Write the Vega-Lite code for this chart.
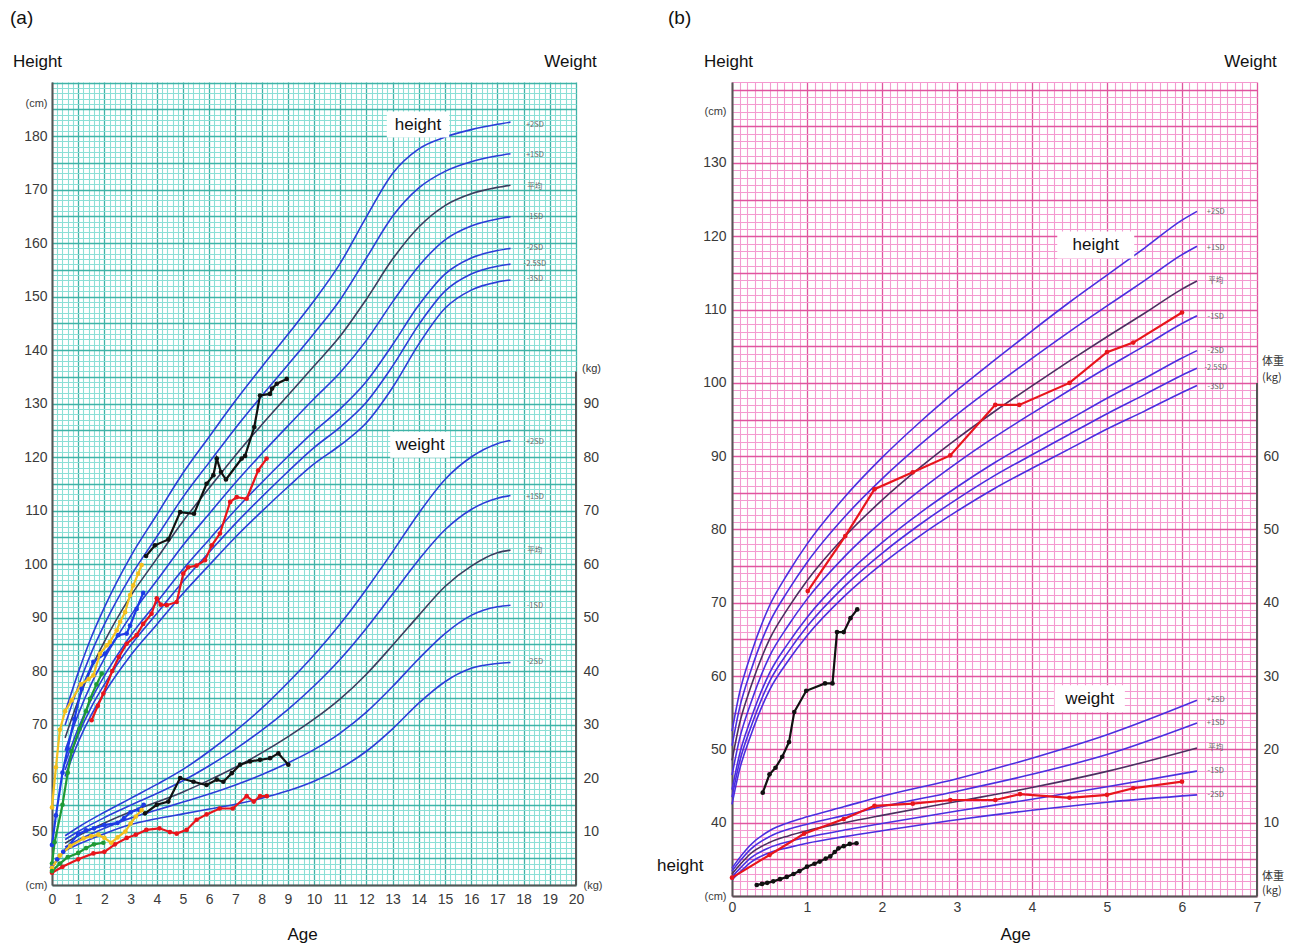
{
"$schema": "https://vega.github.io/schema/vega-lite/v6.json",
"background": "white",
"padding": {"left": 10, "top": 9, "right": 5, "bottom": 5},
"spacing": 156,
"bounds": "flush",
"config": {
  "view": {"stroke": null, "fill": "white"},
  "font": "Liberation Sans",
  "axis": {"labelFont": "Liberation Sans", "labelFontSize": 14, "labelColor": "#3a3a3a", "titleFont": "Liberation Sans", "titleFontWeight": "normal", "titleFontSize": 17, "titleColor": "#111", "ticks": false, "labelOverlap": false, "labelFlush": false, "domainColor": "#555", "domainWidth": 2, "tickCount": 1000, "format": "d"}
},
"datasets": {
"a_h_ref": [
{"age":0.5,"c":"+2SD","cm":72.3},{"age":1,"c":"+2SD","cm":79.7},{"age":1.5,"c":"+2SD","cm":86.3},{"age":2,"c":"+2SD","cm":91.9},{"age":3,"c":"+2SD","cm":101.4},{"age":4,"c":"+2SD","cm":109.2},{"age":5,"c":"+2SD","cm":117.0},{"age":6,"c":"+2SD","cm":123.8},{"age":7,"c":"+2SD","cm":130.5},{"age":8,"c":"+2SD","cm":136.8},{"age":9,"c":"+2SD","cm":142.9},{"age":10,"c":"+2SD","cm":149.2},{"age":11,"c":"+2SD","cm":156.2},{"age":12,"c":"+2SD","cm":164.9},{"age":13,"c":"+2SD","cm":173.0},{"age":14,"c":"+2SD","cm":177.6},{"age":15,"c":"+2SD","cm":179.8},{"age":16,"c":"+2SD","cm":181.2},{"age":17,"c":"+2SD","cm":182.2},{"age":17.5,"c":"+2SD","cm":182.6},
{"age":0.5,"c":"+1SD","cm":69.9},{"age":1,"c":"+1SD","cm":77.1},{"age":1.5,"c":"+1SD","cm":83.4},{"age":2,"c":"+1SD","cm":88.7},{"age":3,"c":"+1SD","cm":97.7},{"age":4,"c":"+1SD","cm":105.1},{"age":5,"c":"+1SD","cm":112.5},{"age":6,"c":"+1SD","cm":119.0},{"age":7,"c":"+1SD","cm":125.4},{"age":8,"c":"+1SD","cm":131.4},{"age":9,"c":"+1SD","cm":137.2},{"age":10,"c":"+1SD","cm":143.1},{"age":11,"c":"+1SD","cm":149.4},{"age":12,"c":"+1SD","cm":157.2},{"age":13,"c":"+1SD","cm":165.0},{"age":14,"c":"+1SD","cm":170.3},{"age":15,"c":"+1SD","cm":173.4},{"age":16,"c":"+1SD","cm":175.2},{"age":17,"c":"+1SD","cm":176.3},{"age":17.5,"c":"+1SD","cm":176.7},
{"age":0.5,"c":"平均","cm":67.5},{"age":1,"c":"平均","cm":74.5},{"age":1.5,"c":"平均","cm":80.5},{"age":2,"c":"平均","cm":85.5},{"age":3,"c":"平均","cm":94.0},{"age":4,"c":"平均","cm":101.0},{"age":5,"c":"平均","cm":108.0},{"age":6,"c":"平均","cm":114.2},{"age":7,"c":"平均","cm":120.3},{"age":8,"c":"平均","cm":126.0},{"age":9,"c":"平均","cm":131.5},{"age":10,"c":"平均","cm":137.0},{"age":11,"c":"平均","cm":142.6},{"age":12,"c":"平均","cm":149.5},{"age":13,"c":"平均","cm":157.0},{"age":14,"c":"平均","cm":163.0},{"age":15,"c":"平均","cm":167.0},{"age":16,"c":"平均","cm":169.2},{"age":17,"c":"平均","cm":170.4},{"age":17.5,"c":"平均","cm":170.8},
{"age":0.5,"c":"-1SD","cm":65.1},{"age":1,"c":"-1SD","cm":71.9},{"age":1.5,"c":"-1SD","cm":77.6},{"age":2,"c":"-1SD","cm":82.3},{"age":3,"c":"-1SD","cm":90.3},{"age":4,"c":"-1SD","cm":96.9},{"age":5,"c":"-1SD","cm":103.5},{"age":6,"c":"-1SD","cm":109.4},{"age":7,"c":"-1SD","cm":115.2},{"age":8,"c":"-1SD","cm":120.6},{"age":9,"c":"-1SD","cm":125.8},{"age":10,"c":"-1SD","cm":130.9},{"age":11,"c":"-1SD","cm":135.8},{"age":12,"c":"-1SD","cm":141.8},{"age":13,"c":"-1SD","cm":149.0},{"age":14,"c":"-1SD","cm":155.7},{"age":15,"c":"-1SD","cm":160.6},{"age":16,"c":"-1SD","cm":163.2},{"age":17,"c":"-1SD","cm":164.5},{"age":17.5,"c":"-1SD","cm":164.9},
{"age":0.5,"c":"-2SD","cm":62.7},{"age":1,"c":"-2SD","cm":69.3},{"age":1.5,"c":"-2SD","cm":74.7},{"age":2,"c":"-2SD","cm":79.1},{"age":3,"c":"-2SD","cm":86.6},{"age":4,"c":"-2SD","cm":92.8},{"age":5,"c":"-2SD","cm":99.0},{"age":6,"c":"-2SD","cm":104.6},{"age":7,"c":"-2SD","cm":110.1},{"age":8,"c":"-2SD","cm":115.2},{"age":9,"c":"-2SD","cm":120.1},{"age":10,"c":"-2SD","cm":124.8},{"age":11,"c":"-2SD","cm":129.0},{"age":12,"c":"-2SD","cm":134.1},{"age":13,"c":"-2SD","cm":141.0},{"age":14,"c":"-2SD","cm":148.4},{"age":15,"c":"-2SD","cm":154.2},{"age":16,"c":"-2SD","cm":157.2},{"age":17,"c":"-2SD","cm":158.6},{"age":17.5,"c":"-2SD","cm":159.0},
{"age":0.5,"c":"-2.5SD","cm":61.5},{"age":1,"c":"-2.5SD","cm":68.0},{"age":1.5,"c":"-2.5SD","cm":73.25},{"age":2,"c":"-2.5SD","cm":77.5},{"age":3,"c":"-2.5SD","cm":84.75},{"age":4,"c":"-2.5SD","cm":90.75},{"age":5,"c":"-2.5SD","cm":96.75},{"age":6,"c":"-2.5SD","cm":102.2},{"age":7,"c":"-2.5SD","cm":107.55},{"age":8,"c":"-2.5SD","cm":112.5},{"age":9,"c":"-2.5SD","cm":117.25},{"age":10,"c":"-2.5SD","cm":121.75},{"age":11,"c":"-2.5SD","cm":125.6},{"age":12,"c":"-2.5SD","cm":130.25},{"age":13,"c":"-2.5SD","cm":137.0},{"age":14,"c":"-2.5SD","cm":144.75},{"age":15,"c":"-2.5SD","cm":151.0},{"age":16,"c":"-2.5SD","cm":154.2},{"age":17,"c":"-2.5SD","cm":155.65},{"age":17.5,"c":"-2.5SD","cm":156.05},
{"age":0.5,"c":"-3SD","cm":60.3},{"age":1,"c":"-3SD","cm":66.7},{"age":1.5,"c":"-3SD","cm":71.8},{"age":2,"c":"-3SD","cm":75.9},{"age":3,"c":"-3SD","cm":82.9},{"age":4,"c":"-3SD","cm":88.7},{"age":5,"c":"-3SD","cm":94.5},{"age":6,"c":"-3SD","cm":99.8},{"age":7,"c":"-3SD","cm":105.0},{"age":8,"c":"-3SD","cm":109.8},{"age":9,"c":"-3SD","cm":114.4},{"age":10,"c":"-3SD","cm":118.7},{"age":11,"c":"-3SD","cm":122.2},{"age":12,"c":"-3SD","cm":126.4},{"age":13,"c":"-3SD","cm":133.0},{"age":14,"c":"-3SD","cm":141.1},{"age":15,"c":"-3SD","cm":147.8},{"age":16,"c":"-3SD","cm":151.2},{"age":17,"c":"-3SD","cm":152.7},{"age":17.5,"c":"-3SD","cm":153.1}
],
"a_w_ref": [
{"age":0.5,"c":"+2SD","kg":9.2},{"age":1,"c":"+2SD","kg":10.8},{"age":2,"c":"+2SD","kg":13.6},{"age":3,"c":"+2SD","kg":16.2},{"age":4,"c":"+2SD","kg":18.8},{"age":5,"c":"+2SD","kg":21.6},{"age":6,"c":"+2SD","kg":25.0},{"age":7,"c":"+2SD","kg":28.8},{"age":8,"c":"+2SD","kg":33.0},{"age":9,"c":"+2SD","kg":37.8},{"age":10,"c":"+2SD","kg":43.0},{"age":11,"c":"+2SD","kg":48.8},{"age":12,"c":"+2SD","kg":55.3},{"age":13,"c":"+2SD","kg":62.3},{"age":14,"c":"+2SD","kg":69.5},{"age":15,"c":"+2SD","kg":75.8},{"age":16,"c":"+2SD","kg":80.0},{"age":17,"c":"+2SD","kg":82.5},{"age":17.5,"c":"+2SD","kg":83.1},
{"age":0.5,"c":"+1SD","kg":8.5},{"age":1,"c":"+1SD","kg":10.0},{"age":2,"c":"+1SD","kg":12.6},{"age":3,"c":"+1SD","kg":14.9},{"age":4,"c":"+1SD","kg":17.1},{"age":5,"c":"+1SD","kg":19.5},{"age":6,"c":"+1SD","kg":22.3},{"age":7,"c":"+1SD","kg":25.4},{"age":8,"c":"+1SD","kg":28.9},{"age":9,"c":"+1SD","kg":32.8},{"age":10,"c":"+1SD","kg":37.2},{"age":11,"c":"+1SD","kg":42.2},{"age":12,"c":"+1SD","kg":48.0},{"age":13,"c":"+1SD","kg":54.4},{"age":14,"c":"+1SD","kg":60.8},{"age":15,"c":"+1SD","kg":66.4},{"age":16,"c":"+1SD","kg":70.2},{"age":17,"c":"+1SD","kg":72.3},{"age":17.5,"c":"+1SD","kg":72.8},
{"age":0.5,"c":"平均","kg":7.8},{"age":1,"c":"平均","kg":9.2},{"age":2,"c":"平均","kg":11.6},{"age":3,"c":"平均","kg":13.7},{"age":4,"c":"平均","kg":15.5},{"age":5,"c":"平均","kg":17.4},{"age":6,"c":"平均","kg":19.6},{"age":7,"c":"平均","kg":22.0},{"age":8,"c":"平均","kg":24.7},{"age":9,"c":"平均","kg":27.7},{"age":10,"c":"平均","kg":31.0},{"age":11,"c":"平均","kg":34.8},{"age":12,"c":"平均","kg":39.4},{"age":13,"c":"平均","kg":44.8},{"age":14,"c":"平均","kg":50.4},{"age":15,"c":"平均","kg":55.8},{"age":16,"c":"平均","kg":59.6},{"age":17,"c":"平均","kg":62.1},{"age":17.5,"c":"平均","kg":62.6},
{"age":0.5,"c":"-1SD","kg":7.1},{"age":1,"c":"-1SD","kg":8.4},{"age":2,"c":"-1SD","kg":10.6},{"age":3,"c":"-1SD","kg":12.5},{"age":4,"c":"-1SD","kg":14.0},{"age":5,"c":"-1SD","kg":15.5},{"age":6,"c":"-1SD","kg":17.0},{"age":7,"c":"-1SD","kg":18.7},{"age":8,"c":"-1SD","kg":20.6},{"age":9,"c":"-1SD","kg":22.8},{"age":10,"c":"-1SD","kg":25.3},{"age":11,"c":"-1SD","kg":28.4},{"age":12,"c":"-1SD","kg":32.3},{"age":13,"c":"-1SD","kg":37.1},{"age":14,"c":"-1SD","kg":42.3},{"age":15,"c":"-1SD","kg":47.0},{"age":16,"c":"-1SD","kg":50.4},{"age":17,"c":"-1SD","kg":52.0},{"age":17.5,"c":"-1SD","kg":52.3},
{"age":0.5,"c":"-2SD","kg":6.4},{"age":1,"c":"-2SD","kg":7.6},{"age":2,"c":"-2SD","kg":9.6},{"age":3,"c":"-2SD","kg":11.3},{"age":4,"c":"-2SD","kg":12.4},{"age":5,"c":"-2SD","kg":13.3},{"age":6,"c":"-2SD","kg":14.2},{"age":7,"c":"-2SD","kg":15.1},{"age":8,"c":"-2SD","kg":16.2},{"age":9,"c":"-2SD","kg":17.6},{"age":10,"c":"-2SD","kg":19.4},{"age":11,"c":"-2SD","kg":21.8},{"age":12,"c":"-2SD","kg":25.0},{"age":13,"c":"-2SD","kg":29.2},{"age":14,"c":"-2SD","kg":34.0},{"age":15,"c":"-2SD","kg":38.0},{"age":16,"c":"-2SD","kg":40.5},{"age":17,"c":"-2SD","kg":41.4},{"age":17.5,"c":"-2SD","kg":41.6}
],
"a_h_pat": [
{"p":"black","age":3.59,"cm":101.5},{"p":"black","age":3.93,"cm":103.5},{"p":"black","age":4.44,"cm":104.6},{"p":"black","age":4.89,"cm":109.7},{"p":"black","age":5.42,"cm":109.4},{"p":"black","age":5.9,"cm":115.0},{"p":"black","age":6.16,"cm":116.6},{"p":"black","age":6.29,"cm":119.7},{"p":"black","age":6.45,"cm":117.2},{"p":"black","age":6.64,"cm":115.8},{"p":"black","age":7.24,"cm":119.7},{"p":"black","age":7.37,"cm":120.2},{"p":"black","age":7.72,"cm":125.6},{"p":"black","age":7.94,"cm":131.5},{"p":"black","age":8.32,"cm":131.8},{"p":"black","age":8.4,"cm":132.8},{"p":"black","age":8.58,"cm":133.7},{"p":"black","age":8.96,"cm":134.6},
{"p":"red","age":1.51,"cm":70.8},{"p":"red","age":1.75,"cm":73.5},{"p":"red","age":1.96,"cm":75.8},{"p":"red","age":2.3,"cm":80.0},{"p":"red","age":2.55,"cm":82.6},{"p":"red","age":2.85,"cm":85.1},{"p":"red","age":3.23,"cm":86.7},{"p":"red","age":3.48,"cm":88.8},{"p":"red","age":3.8,"cm":90.7},{"p":"red","age":4.0,"cm":93.6},{"p":"red","age":4.15,"cm":92.4},{"p":"red","age":4.38,"cm":92.3},{"p":"red","age":4.76,"cm":92.9},{"p":"red","age":5.01,"cm":98.2},{"p":"red","age":5.2,"cm":99.4},{"p":"red","age":5.52,"cm":99.7},{"p":"red","age":5.84,"cm":100.7},{"p":"red","age":6.1,"cm":103.5},{"p":"red","age":6.41,"cm":105.7},{"p":"red","age":6.8,"cm":111.6},{"p":"red","age":7.05,"cm":112.5},{"p":"red","age":7.43,"cm":112.2},{"p":"red","age":7.87,"cm":117.5},{"p":"red","age":8.19,"cm":119.7},
{"p":"blue","age":0,"cm":47.5},{"p":"blue","age":0.15,"cm":53},{"p":"blue","age":0.4,"cm":61},{"p":"blue","age":0.6,"cm":65.5},{"p":"blue","age":0.85,"cm":71},{"p":"blue","age":1.13,"cm":76.7},{"p":"blue","age":1.58,"cm":81.7},{"p":"blue","age":2.02,"cm":83.2},{"p":"blue","age":2.53,"cm":86.7},{"p":"blue","age":2.85,"cm":87.0},{"p":"blue","age":2.98,"cm":88.5},{"p":"blue","age":3.23,"cm":91.6},{"p":"blue","age":3.48,"cm":94.6},
{"p":"yellow","age":0,"cm":54.5},{"p":"yellow","age":0.15,"cm":62},{"p":"yellow","age":0.3,"cm":69},{"p":"yellow","age":0.5,"cm":72.5},{"p":"yellow","age":0.75,"cm":74.5},{"p":"yellow","age":1.1,"cm":77.5},{"p":"yellow","age":1.4,"cm":78.5},{"p":"yellow","age":1.58,"cm":79.2},{"p":"yellow","age":1.83,"cm":83.2},{"p":"yellow","age":2.09,"cm":84.8},{"p":"yellow","age":2.21,"cm":85.4},{"p":"yellow","age":2.47,"cm":87.6},{"p":"yellow","age":2.6,"cm":89.2},{"p":"yellow","age":2.79,"cm":91.0},{"p":"yellow","age":2.98,"cm":94.2},{"p":"yellow","age":3.1,"cm":96.0},{"p":"yellow","age":3.29,"cm":98.2},{"p":"yellow","age":3.42,"cm":99.8},
{"p":"green","age":0,"cm":44},{"p":"green","age":0.1,"cm":48},{"p":"green","age":0.4,"cm":55},{"p":"green","age":0.6,"cm":61},{"p":"green","age":0.75,"cm":65},{"p":"green","age":1.05,"cm":69.2},{"p":"green","age":1.3,"cm":72.5},{"p":"green","age":1.45,"cm":74.8},{"p":"green","age":1.7,"cm":77.5},{"p":"green","age":1.9,"cm":79.5}
],
"a_w_pat": [
{"p":"black","age":3.55,"kg":13.4},{"p":"black","age":4.0,"kg":15.0},{"p":"black","age":4.44,"kg":15.6},{"p":"black","age":4.89,"kg":20.0},{"p":"black","age":5.4,"kg":19.3},{"p":"black","age":5.9,"kg":18.7},{"p":"black","age":6.29,"kg":19.7},{"p":"black","age":6.54,"kg":19.3},{"p":"black","age":6.86,"kg":20.9},{"p":"black","age":7.18,"kg":22.5},{"p":"black","age":7.56,"kg":23.1},{"p":"black","age":7.94,"kg":23.4},{"p":"black","age":8.32,"kg":23.7},{"p":"black","age":8.64,"kg":24.6},{"p":"black","age":9.02,"kg":22.5},
{"p":"red","age":0,"kg":2.3},{"p":"red","age":0.4,"kg":3.4},{"p":"red","age":1.0,"kg":4.8},{"p":"red","age":1.58,"kg":5.9},{"p":"red","age":2.0,"kg":6.2},{"p":"red","age":2.4,"kg":7.6},{"p":"red","age":2.85,"kg":8.8},{"p":"red","age":3.2,"kg":9.4},{"p":"red","age":3.6,"kg":10.3},{"p":"red","age":4.1,"kg":10.6},{"p":"red","age":4.5,"kg":9.9},{"p":"red","age":4.76,"kg":9.6},{"p":"red","age":5.14,"kg":10.3},{"p":"red","age":5.52,"kg":12.2},{"p":"red","age":5.9,"kg":13.2},{"p":"red","age":6.4,"kg":14.3},{"p":"red","age":6.9,"kg":14.3},{"p":"red","age":7.43,"kg":16.6},{"p":"red","age":7.7,"kg":15.6},{"p":"red","age":7.94,"kg":16.6},{"p":"red","age":8.2,"kg":16.6},
{"p":"blue","age":0,"kg":3.3},{"p":"blue","age":0.2,"kg":4.8},{"p":"blue","age":0.43,"kg":6.2},{"p":"blue","age":1.0,"kg":9.5},{"p":"blue","age":1.3,"kg":10.2},{"p":"blue","age":1.6,"kg":10.6},{"p":"blue","age":2.0,"kg":11.2},{"p":"blue","age":2.5,"kg":11.6},{"p":"blue","age":2.75,"kg":12.5},{"p":"blue","age":3.0,"kg":13.6},{"p":"blue","age":3.3,"kg":14.1},{"p":"blue","age":3.5,"kg":15.0},
{"p":"yellow","age":0,"kg":3.2},{"p":"yellow","age":0.3,"kg":5.5},{"p":"yellow","age":0.7,"kg":7.3},{"p":"yellow","age":1.2,"kg":8.7},{"p":"yellow","age":1.5,"kg":9.1},{"p":"yellow","age":1.77,"kg":9.4},{"p":"yellow","age":2.0,"kg":8.8},{"p":"yellow","age":2.26,"kg":7.9},{"p":"yellow","age":2.5,"kg":8.9},{"p":"yellow","age":2.8,"kg":10.0},{"p":"yellow","age":3.0,"kg":11.5},{"p":"yellow","age":3.2,"kg":12.8},{"p":"yellow","age":3.42,"kg":14.0},
{"p":"green","age":0,"kg":2.6},{"p":"green","age":0.3,"kg":4.0},{"p":"green","age":0.6,"kg":5.2},{"p":"green","age":1.0,"kg":6.0},{"p":"green","age":1.3,"kg":6.9},{"p":"green","age":1.6,"kg":7.6},{"p":"green","age":1.96,"kg":7.9}
],
"a_h_lab": [{"age":18.43,"cm":182.15,"t":"+2SD"},{"age":18.43,"cm":176.5,"t":"+1SD"},{"age":18.43,"cm":170.5,"t":"平均"},{"age":18.43,"cm":164.9,"t":"-1SD"},{"age":18.43,"cm":159.1,"t":"-2SD"},{"age":18.43,"cm":156.1,"t":"-2.5SD"},{"age":18.43,"cm":153.3,"t":"-3SD"}],
"a_w_lab": [{"age":18.43,"kg":82.9,"t":"+2SD"},{"age":18.43,"kg":72.6,"t":"+1SD"},{"age":18.43,"kg":62.5,"t":"平均"},{"age":18.43,"kg":52.2,"t":"-1SD"},{"age":18.43,"kg":41.6,"t":"-2SD"}],
"a_h_box": [{"age":13.97,"cm":182.15,"t":"height"}],
"a_w_box": [{"age":14.05,"kg":82.3,"t":"weight"}],
"a_w_unit": [{"age":20,"kg":96.5,"t":"(kg)"}],
"a_rule": [{"age":20,"k0":0,"k1":96}],
"b_h_ref": [
{"age":0,"c":"+2SD","cm":52.5},{"age":0.1,"c":"+2SD","cm":57.7},{"age":0.25,"c":"+2SD","cm":62.9},{"age":0.5,"c":"+2SD","cm":69.6},{"age":0.75,"c":"+2SD","cm":74.1},{"age":1,"c":"+2SD","cm":78.0},{"age":1.5,"c":"+2SD","cm":84.4},{"age":2,"c":"+2SD","cm":89.8},{"age":2.5,"c":"+2SD","cm":94.6},{"age":3,"c":"+2SD","cm":99.0},{"age":3.5,"c":"+2SD","cm":103.1},{"age":4,"c":"+2SD","cm":107.1},{"age":4.5,"c":"+2SD","cm":111.0},{"age":5,"c":"+2SD","cm":114.7},{"age":5.5,"c":"+2SD","cm":118.4},{"age":6,"c":"+2SD","cm":122.2},{"age":6.2,"c":"+2SD","cm":123.4},
{"age":0,"c":"+1SD","cm":50.5},{"age":0.1,"c":"+1SD","cm":55.6},{"age":0.25,"c":"+1SD","cm":60.7},{"age":0.5,"c":"+1SD","cm":67.3},{"age":0.75,"c":"+1SD","cm":71.7},{"age":1,"c":"+1SD","cm":75.5},{"age":1.5,"c":"+1SD","cm":81.7},{"age":2,"c":"+1SD","cm":86.9},{"age":2.5,"c":"+1SD","cm":91.5},{"age":3,"c":"+1SD","cm":95.7},{"age":3.5,"c":"+1SD","cm":99.6},{"age":4,"c":"+1SD","cm":103.35},{"age":4.5,"c":"+1SD","cm":107.0},{"age":5,"c":"+1SD","cm":110.5},{"age":5.5,"c":"+1SD","cm":113.95},{"age":6,"c":"+1SD","cm":117.5},{"age":6.2,"c":"+1SD","cm":118.65},
{"age":0,"c":"平均","cm":48.5},{"age":0.1,"c":"平均","cm":53.5},{"age":0.25,"c":"平均","cm":58.5},{"age":0.5,"c":"平均","cm":65.0},{"age":0.75,"c":"平均","cm":69.3},{"age":1,"c":"平均","cm":73.0},{"age":1.5,"c":"平均","cm":79.0},{"age":2,"c":"平均","cm":84.0},{"age":2.5,"c":"平均","cm":88.4},{"age":3,"c":"平均","cm":92.4},{"age":3.5,"c":"平均","cm":96.1},{"age":4,"c":"平均","cm":99.6},{"age":4.5,"c":"平均","cm":103.0},{"age":5,"c":"平均","cm":106.3},{"age":5.5,"c":"平均","cm":109.5},{"age":6,"c":"平均","cm":112.8},{"age":6.2,"c":"平均","cm":113.9},
{"age":0,"c":"-1SD","cm":46.5},{"age":0.1,"c":"-1SD","cm":51.4},{"age":0.25,"c":"-1SD","cm":56.3},{"age":0.5,"c":"-1SD","cm":62.7},{"age":0.75,"c":"-1SD","cm":66.9},{"age":1,"c":"-1SD","cm":70.5},{"age":1.5,"c":"-1SD","cm":76.3},{"age":2,"c":"-1SD","cm":81.1},{"age":2.5,"c":"-1SD","cm":85.3},{"age":3,"c":"-1SD","cm":89.1},{"age":3.5,"c":"-1SD","cm":92.6},{"age":4,"c":"-1SD","cm":95.85},{"age":4.5,"c":"-1SD","cm":99.0},{"age":5,"c":"-1SD","cm":102.1},{"age":5.5,"c":"-1SD","cm":105.05},{"age":6,"c":"-1SD","cm":108.1},{"age":6.2,"c":"-1SD","cm":109.15},
{"age":0,"c":"-2SD","cm":44.5},{"age":0.1,"c":"-2SD","cm":49.3},{"age":0.25,"c":"-2SD","cm":54.1},{"age":0.5,"c":"-2SD","cm":60.4},{"age":0.75,"c":"-2SD","cm":64.5},{"age":1,"c":"-2SD","cm":68.0},{"age":1.5,"c":"-2SD","cm":73.6},{"age":2,"c":"-2SD","cm":78.2},{"age":2.5,"c":"-2SD","cm":82.2},{"age":3,"c":"-2SD","cm":85.8},{"age":3.5,"c":"-2SD","cm":89.1},{"age":4,"c":"-2SD","cm":92.1},{"age":4.5,"c":"-2SD","cm":95.0},{"age":5,"c":"-2SD","cm":97.9},{"age":5.5,"c":"-2SD","cm":100.6},{"age":6,"c":"-2SD","cm":103.4},{"age":6.2,"c":"-2SD","cm":104.4},
{"age":0,"c":"-2.5SD","cm":43.5},{"age":0.1,"c":"-2.5SD","cm":48.25},{"age":0.25,"c":"-2.5SD","cm":53.0},{"age":0.5,"c":"-2.5SD","cm":59.25},{"age":0.75,"c":"-2.5SD","cm":63.3},{"age":1,"c":"-2.5SD","cm":66.75},{"age":1.5,"c":"-2.5SD","cm":72.25},{"age":2,"c":"-2.5SD","cm":76.75},{"age":2.5,"c":"-2.5SD","cm":80.65},{"age":3,"c":"-2.5SD","cm":84.15},{"age":3.5,"c":"-2.5SD","cm":87.35},{"age":4,"c":"-2.5SD","cm":90.2},{"age":4.5,"c":"-2.5SD","cm":93.0},{"age":5,"c":"-2.5SD","cm":95.8},{"age":5.5,"c":"-2.5SD","cm":98.4},{"age":6,"c":"-2.5SD","cm":101.05},{"age":6.2,"c":"-2.5SD","cm":102.0},
{"age":0,"c":"-3SD","cm":42.5},{"age":0.1,"c":"-3SD","cm":47.2},{"age":0.25,"c":"-3SD","cm":51.9},{"age":0.5,"c":"-3SD","cm":58.1},{"age":0.75,"c":"-3SD","cm":62.1},{"age":1,"c":"-3SD","cm":65.5},{"age":1.5,"c":"-3SD","cm":70.9},{"age":2,"c":"-3SD","cm":75.3},{"age":2.5,"c":"-3SD","cm":79.1},{"age":3,"c":"-3SD","cm":82.5},{"age":3.5,"c":"-3SD","cm":85.6},{"age":4,"c":"-3SD","cm":88.35},{"age":4.5,"c":"-3SD","cm":91.0},{"age":5,"c":"-3SD","cm":93.7},{"age":5.5,"c":"-3SD","cm":96.15},{"age":6,"c":"-3SD","cm":98.7},{"age":6.2,"c":"-3SD","cm":99.65}
],
"b_w_ref": [
{"age":0,"c":"+2SD","kg":3.8},{"age":0.1,"c":"+2SD","kg":5.2},{"age":0.25,"c":"+2SD","kg":7.0},{"age":0.5,"c":"+2SD","kg":8.9},{"age":0.75,"c":"+2SD","kg":10.0},{"age":1,"c":"+2SD","kg":10.8},{"age":1.5,"c":"+2SD","kg":12.2},{"age":2,"c":"+2SD","kg":13.6},{"age":3,"c":"+2SD","kg":16.0},{"age":4,"c":"+2SD","kg":18.8},{"age":5,"c":"+2SD","kg":22.0},{"age":6.2,"c":"+2SD","kg":26.7},
{"age":0,"c":"+1SD","kg":3.4},{"age":0.1,"c":"+1SD","kg":4.7},{"age":0.25,"c":"+1SD","kg":6.4},{"age":0.5,"c":"+1SD","kg":8.1},{"age":0.75,"c":"+1SD","kg":9.1},{"age":1,"c":"+1SD","kg":9.8},{"age":1.5,"c":"+1SD","kg":11.0},{"age":2,"c":"+1SD","kg":12.2},{"age":3,"c":"+1SD","kg":14.3},{"age":4,"c":"+1SD","kg":16.6},{"age":5,"c":"+1SD","kg":19.3},{"age":6.2,"c":"+1SD","kg":23.6},
{"age":0,"c":"平均","kg":3.0},{"age":0.1,"c":"平均","kg":4.2},{"age":0.25,"c":"平均","kg":5.8},{"age":0.5,"c":"平均","kg":7.3},{"age":0.75,"c":"平均","kg":8.2},{"age":1,"c":"平均","kg":8.9},{"age":1.5,"c":"平均","kg":10.0},{"age":2,"c":"平均","kg":11.0},{"age":3,"c":"平均","kg":12.9},{"age":4,"c":"平均","kg":14.8},{"age":5,"c":"平均","kg":17.0},{"age":6.2,"c":"平均","kg":20.2},
{"age":0,"c":"-1SD","kg":2.6},{"age":0.1,"c":"-1SD","kg":3.7},{"age":0.25,"c":"-1SD","kg":5.2},{"age":0.5,"c":"-1SD","kg":6.6},{"age":0.75,"c":"-1SD","kg":7.4},{"age":1,"c":"-1SD","kg":8.0},{"age":1.5,"c":"-1SD","kg":9.0},{"age":2,"c":"-1SD","kg":9.9},{"age":3,"c":"-1SD","kg":11.6},{"age":4,"c":"-1SD","kg":13.2},{"age":5,"c":"-1SD","kg":14.9},{"age":6.2,"c":"-1SD","kg":17.05},
{"age":0,"c":"-2SD","kg":2.2},{"age":0.1,"c":"-2SD","kg":3.2},{"age":0.25,"c":"-2SD","kg":4.6},{"age":0.5,"c":"-2SD","kg":5.9},{"age":0.75,"c":"-2SD","kg":6.6},{"age":1,"c":"-2SD","kg":7.2},{"age":1.5,"c":"-2SD","kg":8.1},{"age":2,"c":"-2SD","kg":8.9},{"age":3,"c":"-2SD","kg":10.4},{"age":4,"c":"-2SD","kg":11.7},{"age":5,"c":"-2SD","kg":12.8},{"age":6.2,"c":"-2SD","kg":13.8}
],
"b_h_pat": [
{"p":"red","age":1.01,"cm":71.6},{"p":"red","age":1.51,"cm":79.1},{"p":"red","age":1.9,"cm":85.5},{"p":"red","age":2.41,"cm":87.8},{"p":"red","age":2.91,"cm":90.1},{"p":"red","age":3.51,"cm":97.0},{"p":"red","age":3.83,"cm":97.0},{"p":"red","age":4.5,"cm":100.0},{"p":"red","age":5.0,"cm":104.2},{"p":"red","age":5.35,"cm":105.5},{"p":"red","age":6.0,"cm":109.6},
{"p":"black","age":0.41,"cm":44.1},{"p":"black","age":0.5,"cm":46.6},{"p":"black","age":0.58,"cm":47.5},{"p":"black","age":0.67,"cm":49.0},{"p":"black","age":0.76,"cm":51.0},{"p":"black","age":0.83,"cm":55.1},{"p":"black","age":0.99,"cm":58.0},{"p":"black","age":1.24,"cm":59.0},{"p":"black","age":1.34,"cm":59.0},{"p":"black","age":1.4,"cm":66.0},{"p":"black","age":1.49,"cm":66.0},{"p":"black","age":1.58,"cm":67.9},{"p":"black","age":1.67,"cm":69.1}
],
"b_w_pat": [
{"p":"red","age":0,"kg":2.5},{"p":"red","age":0.5,"kg":5.6},{"p":"red","age":0.96,"kg":8.5},{"p":"red","age":1.49,"kg":10.5},{"p":"red","age":1.9,"kg":12.3},{"p":"red","age":2.41,"kg":12.6},{"p":"red","age":2.91,"kg":13.1},{"p":"red","age":3.51,"kg":13.1},{"p":"red","age":3.84,"kg":13.9},{"p":"red","age":4.5,"kg":13.4},{"p":"red","age":5.0,"kg":13.8},{"p":"red","age":5.35,"kg":14.7},{"p":"red","age":6.0,"kg":15.6},
{"p":"black","age":0.33,"kg":1.5},{"p":"black","age":0.4,"kg":1.65},{"p":"black","age":0.47,"kg":1.8},{"p":"black","age":0.55,"kg":2.0},{"p":"black","age":0.64,"kg":2.3},{"p":"black","age":0.73,"kg":2.6},{"p":"black","age":0.82,"kg":3.0},{"p":"black","age":0.9,"kg":3.4},{"p":"black","age":1.0,"kg":4.0},{"p":"black","age":1.1,"kg":4.4},{"p":"black","age":1.17,"kg":4.7},{"p":"black","age":1.25,"kg":5.1},{"p":"black","age":1.31,"kg":5.4},{"p":"black","age":1.37,"kg":6.0},{"p":"black","age":1.42,"kg":6.5},{"p":"black","age":1.49,"kg":6.8},{"p":"black","age":1.57,"kg":7.1},{"p":"black","age":1.66,"kg":7.2}
],
"b_h_lab": [{"age":6.45,"cm":123.3,"t":"+2SD"},{"age":6.45,"cm":118.4,"t":"+1SD"},{"age":6.45,"cm":113.9,"t":"平均"},{"age":6.45,"cm":109.0,"t":"-1SD"},{"age":6.45,"cm":104.4,"t":"-2SD"},{"age":6.45,"cm":102.0,"t":"-2.5SD"},{"age":6.45,"cm":99.5,"t":"-3SD"}],
"b_w_lab": [{"age":6.45,"kg":26.7,"t":"+2SD"},{"age":6.45,"kg":23.6,"t":"+1SD"},{"age":6.45,"kg":20.2,"t":"平均"},{"age":6.45,"kg":17.05,"t":"-1SD"},{"age":6.45,"kg":13.8,"t":"-2SD"}],
"b_h_box": [{"age":4.85,"cm":118.8,"t":"height"}],
"b_w_box": [{"age":4.77,"kg":26.9,"t":"weight"}],
"b_h_out": [{"age":-0.69,"cm":34.1,"t":"height"}],
"b_w_unit": [{"age":7,"kg":72.9,"t":"体重"},{"age":7,"kg":70.7,"t":"(kg)"},{"age":7,"kg":2.6,"t":"体重"},{"age":7,"kg":0.7,"t":"(kg)"}],
"b_rule": [{"age":7,"k0":0,"k1":70}]
},
"hconcat": [
{
 "width": 524, "height": 803,
 "title": {"text": "(a)", "anchor": "start", "frame": "group", "dx": -42, "offset": 24, "fontSize": 19, "fontWeight": "normal", "font": "Liberation Sans", "color": "#111"},
 "layer": [
  {"layer": [
   {"data": {"name": "a_h_ref"}, "transform": [{"filter": "datum.c !== '平均'"}],
    "mark": {"type": "line", "interpolate": "monotone", "color": "#2b3dd8", "strokeWidth": 1.6},
    "encoding": {
     "x": {"field": "age", "type": "quantitative", "scale": {"domain": [0, 20], "nice": false, "zero": false},
       "axis": {"orient": "bottom", "title": "Age", "titleX": 250, "titleY": 49, "titleAlign": "center", "titleBaseline": "middle", "tickCount": 1000,
        "values": [0,0.2,0.4,0.6,0.8,1,1.2,1.4,1.6,1.8,2,2.2,2.4,2.6,2.8,3,3.2,3.4,3.6,3.8,4,4.2,4.4,4.6,4.8,5,5.2,5.4,5.6,5.8,6,6.2,6.4,6.6,6.8,7,7.2,7.4,7.6,7.8,8,8.2,8.4,8.6,8.8,9,9.2,9.4,9.6,9.8,10,10.2,10.4,10.6,10.8,11,11.2,11.4,11.6,11.8,12,12.2,12.4,12.6,12.8,13,13.2,13.4,13.6,13.8,14,14.2,14.4,14.6,14.8,15,15.2,15.4,15.6,15.8,16,16.2,16.4,16.6,16.8,17,17.2,17.4,17.6,17.8,18,18.2,18.4,18.6,18.8,19,19.2,19.4,19.6,19.8,20],
        "labelExpr": "datum.value % 1 === 0 ? datum.label : ''", "labelPadding": 7,
        "grid": true, "gridColor": {"condition": {"test": "datum.value % 1 === 0", "value": "#3fb3a7"}, "value": "#8cdfd6"}, "gridWidth": {"condition": {"test": "datum.value % 1 === 0", "value": 1.3}, "value": 1.1}}},
     "y": {"field": "cm", "type": "quantitative", "scale": {"domain": [40, 190.1], "nice": false, "zero": false},
       "axis": {"orient": "left", "title": "Height", "titleAngle": 0, "titleX": -15, "titleY": -21, "titleAlign": "center", "titleBaseline": "middle", "tickCount": 1000,
        "values": [40,41,42,43,44,45,46,47,48,49,50,51,52,53,54,55,56,57,58,59,60,61,62,63,64,65,66,67,68,69,70,71,72,73,74,75,76,77,78,79,80,81,82,83,84,85,86,87,88,89,90,91,92,93,94,95,96,97,98,99,100,101,102,103,104,105,106,107,108,109,110,111,112,113,114,115,116,117,118,119,120,121,122,123,124,125,126,127,128,129,130,131,132,133,134,135,136,137,138,139,140,141,142,143,144,145,146,147,148,149,150,151,152,153,154,155,156,157,158,159,160,161,162,163,164,165,166,167,168,169,170,171,172,173,174,175,176,177,178,179,180,181,182,183,184,185,186,187,188,189,190],
        "labelExpr": "(datum.value === 40 || datum.value === 186) ? '(cm)' : ((datum.value % 10 === 0 && datum.value >= 50 && datum.value <= 180) ? datum.label : '')",
        "labelFontSize": {"condition": {"test": "datum.value === 40 || datum.value === 186", "value": 11}, "value": 14},
        "labelPadding": 5,
        "grid": true, "gridColor": {"condition": {"test": "datum.value % 5 === 0", "value": "#3fb3a7"}, "value": "#8cdfd6"}, "gridWidth": {"condition": {"test": "datum.value % 5 === 0", "value": 1.3}, "value": 1.1}}},
     "detail": {"field": "c"}}},
   {"data": {"name": "a_h_ref"}, "transform": [{"filter": "datum.c === '平均'"}],
    "mark": {"type": "line", "interpolate": "monotone", "color": "#3b3d5e", "strokeWidth": 1.6},
    "encoding": {
     "x": {"field": "age", "type": "quantitative", "scale": {"domain": [0, 20], "nice": false, "zero": false}},
     "y": {"field": "cm", "type": "quantitative", "scale": {"domain": [40, 190.1], "nice": false, "zero": false}}}},
   {"data": {"name": "a_h_pat"},
    "mark": {"type": "line", "strokeWidth": 2.2, "point": {"filled": true, "size": 22, "opacity": 1}},
    "encoding": {
     "x": {"field": "age", "type": "quantitative", "scale": {"domain": [0, 20], "nice": false, "zero": false}},
     "y": {"field": "cm", "type": "quantitative", "scale": {"domain": [40, 190.1], "nice": false, "zero": false}},
     "color": {"field": "p", "type": "nominal", "scale": {"domain": ["black", "red", "blue", "yellow", "green"], "range": ["#111111", "#e8151b", "#1d3be6", "#f4c01e", "#1f9a35"]}, "legend": null}}},
   {"data": {"name": "a_h_lab"},
    "mark": {"type": "text", "fontSize": 7.5, "color": "#666", "font": "Noto Sans CJK JP"},
    "encoding": {
     "x": {"field": "age", "type": "quantitative", "scale": {"domain": [0, 20], "nice": false, "zero": false}},
     "y": {"field": "cm", "type": "quantitative", "scale": {"domain": [40, 190.1], "nice": false, "zero": false}},
     "text": {"field": "t"}}},
   {"data": {"name": "a_h_box"},
    "mark": {"type": "point", "shape": "M-2.4,-1H2.4V1H-2.4Z", "size": 676, "filled": true, "color": "white", "opacity": 1, "strokeWidth": 0},
    "encoding": {
     "x": {"field": "age", "type": "quantitative", "scale": {"domain": [0, 20], "nice": false, "zero": false}},
     "y": {"field": "cm", "type": "quantitative", "scale": {"domain": [40, 190.1], "nice": false, "zero": false}}}},
   {"data": {"name": "a_h_box"},
    "mark": {"type": "text", "fontSize": 17, "font": "Liberation Sans", "color": "#111"},
    "encoding": {
     "x": {"field": "age", "type": "quantitative", "scale": {"domain": [0, 20], "nice": false, "zero": false}},
     "y": {"field": "cm", "type": "quantitative", "scale": {"domain": [40, 190.1], "nice": false, "zero": false}},
     "text": {"field": "t"}}}
  ]},
  {"layer": [
   {"data": {"name": "a_w_ref"}, "transform": [{"filter": "datum.c !== '平均'"}],
    "mark": {"type": "line", "interpolate": "monotone", "color": "#2b3dd8", "strokeWidth": 1.6},
    "encoding": {
     "x": {"field": "age", "type": "quantitative", "scale": {"domain": [0, 20], "nice": false, "zero": false}},
     "y": {"field": "kg", "type": "quantitative", "scale": {"domain": [0, 150.1], "nice": false, "zero": false},
       "axis": {"orient": "right", "title": "Weight", "titleAngle": 0, "titleX": -6, "titleY": -21, "titleAlign": "center", "titleBaseline": "middle", "tickCount": 1000,
        "values": [0,10,20,30,40,50,60,70,80,90], "grid": false, "domain": false, "labelPadding": 7,
        "labelExpr": "datum.value === 0 ? '(kg)' : datum.label",
        "labelFontSize": {"condition": {"test": "datum.value === 0", "value": 11}, "value": 14}}},
     "detail": {"field": "c"}}},
   {"data": {"name": "a_w_ref"}, "transform": [{"filter": "datum.c === '平均'"}],
    "mark": {"type": "line", "interpolate": "monotone", "color": "#3b3d5e", "strokeWidth": 1.6},
    "encoding": {
     "x": {"field": "age", "type": "quantitative", "scale": {"domain": [0, 20], "nice": false, "zero": false}},
     "y": {"field": "kg", "type": "quantitative", "scale": {"domain": [0, 150.1], "nice": false, "zero": false}}}},
   {"data": {"name": "a_w_pat"},
    "mark": {"type": "line", "strokeWidth": 2.2, "point": {"filled": true, "size": 22, "opacity": 1}},
    "encoding": {
     "x": {"field": "age", "type": "quantitative", "scale": {"domain": [0, 20], "nice": false, "zero": false}},
     "y": {"field": "kg", "type": "quantitative", "scale": {"domain": [0, 150.1], "nice": false, "zero": false}},
     "color": {"field": "p", "type": "nominal", "scale": {"domain": ["black", "red", "blue", "yellow", "green"], "range": ["#111111", "#e8151b", "#1d3be6", "#f4c01e", "#1f9a35"]}, "legend": null}}},
   {"data": {"name": "a_w_lab"},
    "mark": {"type": "text", "fontSize": 7.5, "color": "#666", "font": "Noto Sans CJK JP"},
    "encoding": {
     "x": {"field": "age", "type": "quantitative", "scale": {"domain": [0, 20], "nice": false, "zero": false}},
     "y": {"field": "kg", "type": "quantitative", "scale": {"domain": [0, 150.1], "nice": false, "zero": false}},
     "text": {"field": "t"}}},
   {"data": {"name": "a_w_box"},
    "mark": {"type": "point", "shape": "M-2.3,-1H2.3V1H-2.3Z", "size": 676, "filled": true, "color": "white", "opacity": 1, "strokeWidth": 0},
    "encoding": {
     "x": {"field": "age", "type": "quantitative", "scale": {"domain": [0, 20], "nice": false, "zero": false}},
     "y": {"field": "kg", "type": "quantitative", "scale": {"domain": [0, 150.1], "nice": false, "zero": false}}}},
   {"data": {"name": "a_w_box"},
    "mark": {"type": "text", "fontSize": 17, "font": "Liberation Sans", "color": "#111"},
    "encoding": {
     "x": {"field": "age", "type": "quantitative", "scale": {"domain": [0, 20], "nice": false, "zero": false}},
     "y": {"field": "kg", "type": "quantitative", "scale": {"domain": [0, 150.1], "nice": false, "zero": false}},
     "text": {"field": "t"}}},
   {"data": {"name": "a_w_unit"},
    "mark": {"type": "text", "fontSize": 11, "font": "Liberation Sans", "color": "#333", "align": "left", "dx": 6},
    "encoding": {
     "x": {"field": "age", "type": "quantitative", "scale": {"domain": [0, 20], "nice": false, "zero": false}},
     "y": {"field": "kg", "type": "quantitative", "scale": {"domain": [0, 150.1], "nice": false, "zero": false}},
     "text": {"field": "t"}}},
   {"data": {"name": "a_rule"},
    "mark": {"type": "rule", "color": "#555", "strokeWidth": 2},
    "encoding": {
     "x": {"field": "age", "type": "quantitative", "scale": {"domain": [0, 20], "nice": false, "zero": false}},
     "y": {"field": "k0", "type": "quantitative", "scale": {"domain": [0, 150.1], "nice": false, "zero": false}},
     "y2": {"field": "k1"}}}
  ]}
 ],
 "resolve": {"scale": {"y": "independent"}}
},
{
 "width": 525, "height": 814,
 "title": {"text": "(b)", "anchor": "start", "frame": "group", "dx": -64, "offset": 24, "fontSize": 19, "fontWeight": "normal", "font": "Liberation Sans", "color": "#111"},
 "layer": [
  {"layer": [
   {"data": {"name": "b_h_ref"}, "transform": [{"filter": "datum.c !== '平均'"}],
    "mark": {"type": "line", "interpolate": "monotone", "color": "#4a2fe0", "strokeWidth": 1.6},
    "encoding": {
     "x": {"field": "age", "type": "quantitative", "scale": {"domain": [0, 7], "nice": false, "zero": false},
       "axis": {"orient": "bottom", "title": "Age", "titleX": 283, "titleY": 38, "titleAlign": "center", "titleBaseline": "middle", "tickCount": 1000,
        "values": [0,0.1,0.2,0.3,0.4,0.5,0.6,0.7,0.8,0.9,1,1.1,1.2,1.3,1.4,1.5,1.6,1.7,1.8,1.9,2,2.1,2.2,2.3,2.4,2.5,2.6,2.7,2.8,2.9,3,3.1,3.2,3.3,3.4,3.5,3.6,3.7,3.8,3.9,4,4.1,4.2,4.3,4.4,4.5,4.6,4.7,4.8,4.9,5,5.1,5.2,5.3,5.4,5.5,5.6,5.7,5.8,5.9,6,6.1,6.2,6.3,6.4,6.5,6.6,6.7,6.8,6.9,7],
        "labelExpr": "datum.value % 1 === 0 ? datum.label : ''", "labelPadding": 4,
        "grid": true, "gridColor": {"condition": {"test": "datum.value % 1 === 0", "value": "#e0559f"}, "value": "#f49ad0"}, "gridWidth": {"condition": {"test": "datum.value % 1 === 0", "value": 1.3}, "value": 1.1}}},
     "y": {"field": "cm", "type": "quantitative", "scale": {"domain": [30, 141.05], "nice": false, "zero": false},
       "axis": {"orient": "left", "title": "Height", "titleAngle": 0, "titleX": -4, "titleY": -21, "titleAlign": "center", "titleBaseline": "middle", "tickCount": 1000,
        "values": [30,31,32,33,34,35,36,37,38,39,40,41,42,43,44,45,46,47,48,49,50,51,52,53,54,55,56,57,58,59,60,61,62,63,64,65,66,67,68,69,70,71,72,73,74,75,76,77,78,79,80,81,82,83,84,85,86,87,88,89,90,91,92,93,94,95,96,97,98,99,100,101,102,103,104,105,106,107,108,109,110,111,112,113,114,115,116,117,118,119,120,121,122,123,124,125,126,127,128,129,130,131,132,133,134,135,136,137,138,139,140,141],
        "labelExpr": "(datum.value === 30 || datum.value === 137) ? '(cm)' : ((datum.value % 10 === 0 && datum.value >= 40 && datum.value <= 130) ? datum.label : '')",
        "labelFontSize": {"condition": {"test": "datum.value === 30 || datum.value === 137", "value": 11}, "value": 14},
        "labelPadding": 6,
        "grid": true, "gridColor": {"condition": {"test": "datum.value % 5 === 0", "value": "#e0559f"}, "value": "#f49ad0"}, "gridWidth": {"condition": {"test": "datum.value % 5 === 0", "value": 1.3}, "value": 1.1}}},
     "detail": {"field": "c"}}},
   {"data": {"name": "b_h_ref"}, "transform": [{"filter": "datum.c === '平均'"}],
    "mark": {"type": "line", "interpolate": "monotone", "color": "#4b2f60", "strokeWidth": 1.6},
    "encoding": {
     "x": {"field": "age", "type": "quantitative", "scale": {"domain": [0, 7], "nice": false, "zero": false}},
     "y": {"field": "cm", "type": "quantitative", "scale": {"domain": [30, 141.05], "nice": false, "zero": false}}}},
   {"data": {"name": "b_h_pat"},
    "mark": {"type": "line", "strokeWidth": 2.2, "point": {"filled": true, "size": 22, "opacity": 1}},
    "encoding": {
     "x": {"field": "age", "type": "quantitative", "scale": {"domain": [0, 7], "nice": false, "zero": false}},
     "y": {"field": "cm", "type": "quantitative", "scale": {"domain": [30, 141.05], "nice": false, "zero": false}},
     "color": {"field": "p", "type": "nominal", "scale": {"domain": ["black", "red"], "range": ["#111111", "#e8151b"]}, "legend": null}}},
   {"data": {"name": "b_h_lab"},
    "mark": {"type": "text", "fontSize": 7.5, "color": "#666", "font": "Noto Sans CJK JP"},
    "encoding": {
     "x": {"field": "age", "type": "quantitative", "scale": {"domain": [0, 7], "nice": false, "zero": false}},
     "y": {"field": "cm", "type": "quantitative", "scale": {"domain": [30, 141.05], "nice": false, "zero": false}},
     "text": {"field": "t"}}},
   {"data": {"name": "b_h_box"},
    "mark": {"type": "point", "shape": "M-2.85,-1H2.85V1H-2.85Z", "size": 729, "filled": true, "color": "white", "opacity": 1, "strokeWidth": 0},
    "encoding": {
     "x": {"field": "age", "type": "quantitative", "scale": {"domain": [0, 7], "nice": false, "zero": false}},
     "y": {"field": "cm", "type": "quantitative", "scale": {"domain": [30, 141.05], "nice": false, "zero": false}}}},
   {"data": {"name": "b_h_box"},
    "mark": {"type": "text", "fontSize": 17, "font": "Liberation Sans", "color": "#111"},
    "encoding": {
     "x": {"field": "age", "type": "quantitative", "scale": {"domain": [0, 7], "nice": false, "zero": false}},
     "y": {"field": "cm", "type": "quantitative", "scale": {"domain": [30, 141.05], "nice": false, "zero": false}},
     "text": {"field": "t"}}},
   {"data": {"name": "b_h_out"},
    "mark": {"type": "text", "fontSize": 17, "font": "Liberation Sans", "color": "#111"},
    "encoding": {
     "x": {"field": "age", "type": "quantitative", "scale": {"domain": [0, 7], "nice": false, "zero": false}},
     "y": {"field": "cm", "type": "quantitative", "scale": {"domain": [30, 141.05], "nice": false, "zero": false}},
     "text": {"field": "t"}}}
  ]},
  {"layer": [
   {"data": {"name": "b_w_ref"}, "transform": [{"filter": "datum.c !== '平均'"}],
    "mark": {"type": "line", "interpolate": "monotone", "color": "#4a2fe0", "strokeWidth": 1.6},
    "encoding": {
     "x": {"field": "age", "type": "quantitative", "scale": {"domain": [0, 7], "nice": false, "zero": false}},
     "y": {"field": "kg", "type": "quantitative", "scale": {"domain": [0, 111.05], "nice": false, "zero": false},
       "axis": {"orient": "right", "title": "Weight", "titleAngle": 0, "titleX": -7, "titleY": -21, "titleAlign": "center", "titleBaseline": "middle", "tickCount": 1000,
        "values": [10,20,30,40,50,60], "grid": false, "domain": false, "labelPadding": 6}},
     "detail": {"field": "c"}}},
   {"data": {"name": "b_w_ref"}, "transform": [{"filter": "datum.c === '平均'"}],
    "mark": {"type": "line", "interpolate": "monotone", "color": "#4b2f60", "strokeWidth": 1.6},
    "encoding": {
     "x": {"field": "age", "type": "quantitative", "scale": {"domain": [0, 7], "nice": false, "zero": false}},
     "y": {"field": "kg", "type": "quantitative", "scale": {"domain": [0, 111.05], "nice": false, "zero": false}}}},
   {"data": {"name": "b_w_pat"},
    "mark": {"type": "line", "strokeWidth": 2.2, "point": {"filled": true, "size": 22, "opacity": 1}},
    "encoding": {
     "x": {"field": "age", "type": "quantitative", "scale": {"domain": [0, 7], "nice": false, "zero": false}},
     "y": {"field": "kg", "type": "quantitative", "scale": {"domain": [0, 111.05], "nice": false, "zero": false}},
     "color": {"field": "p", "type": "nominal", "scale": {"domain": ["black", "red"], "range": ["#111111", "#e8151b"]}, "legend": null}}},
   {"data": {"name": "b_w_lab"},
    "mark": {"type": "text", "fontSize": 7.5, "color": "#666", "font": "Noto Sans CJK JP"},
    "encoding": {
     "x": {"field": "age", "type": "quantitative", "scale": {"domain": [0, 7], "nice": false, "zero": false}},
     "y": {"field": "kg", "type": "quantitative", "scale": {"domain": [0, 111.05], "nice": false, "zero": false}},
     "text": {"field": "t"}}},
   {"data": {"name": "b_w_box"},
    "mark": {"type": "point", "shape": "M-2.6,-1H2.6V1H-2.6Z", "size": 729, "filled": true, "color": "white", "opacity": 1, "strokeWidth": 0},
    "encoding": {
     "x": {"field": "age", "type": "quantitative", "scale": {"domain": [0, 7], "nice": false, "zero": false}},
     "y": {"field": "kg", "type": "quantitative", "scale": {"domain": [0, 111.05], "nice": false, "zero": false}}}},
   {"data": {"name": "b_w_box"},
    "mark": {"type": "text", "fontSize": 17, "font": "Liberation Sans", "color": "#111"},
    "encoding": {
     "x": {"field": "age", "type": "quantitative", "scale": {"domain": [0, 7], "nice": false, "zero": false}},
     "y": {"field": "kg", "type": "quantitative", "scale": {"domain": [0, 111.05], "nice": false, "zero": false}},
     "text": {"field": "t"}}},
   {"data": {"name": "b_w_unit"},
    "mark": {"type": "text", "fontSize": 11, "font": "Noto Sans CJK JP", "color": "#333", "align": "left", "dx": 5},
    "encoding": {
     "x": {"field": "age", "type": "quantitative", "scale": {"domain": [0, 7], "nice": false, "zero": false}},
     "y": {"field": "kg", "type": "quantitative", "scale": {"domain": [0, 111.05], "nice": false, "zero": false}},
     "text": {"field": "t"}}},
   {"data": {"name": "b_rule"},
    "mark": {"type": "rule", "color": "#555", "strokeWidth": 2},
    "encoding": {
     "x": {"field": "age", "type": "quantitative", "scale": {"domain": [0, 7], "nice": false, "zero": false}},
     "y": {"field": "k0", "type": "quantitative", "scale": {"domain": [0, 111.05], "nice": false, "zero": false}},
     "y2": {"field": "k1"}}}
  ]}
 ],
 "resolve": {"scale": {"y": "independent"}}
}
]
}
